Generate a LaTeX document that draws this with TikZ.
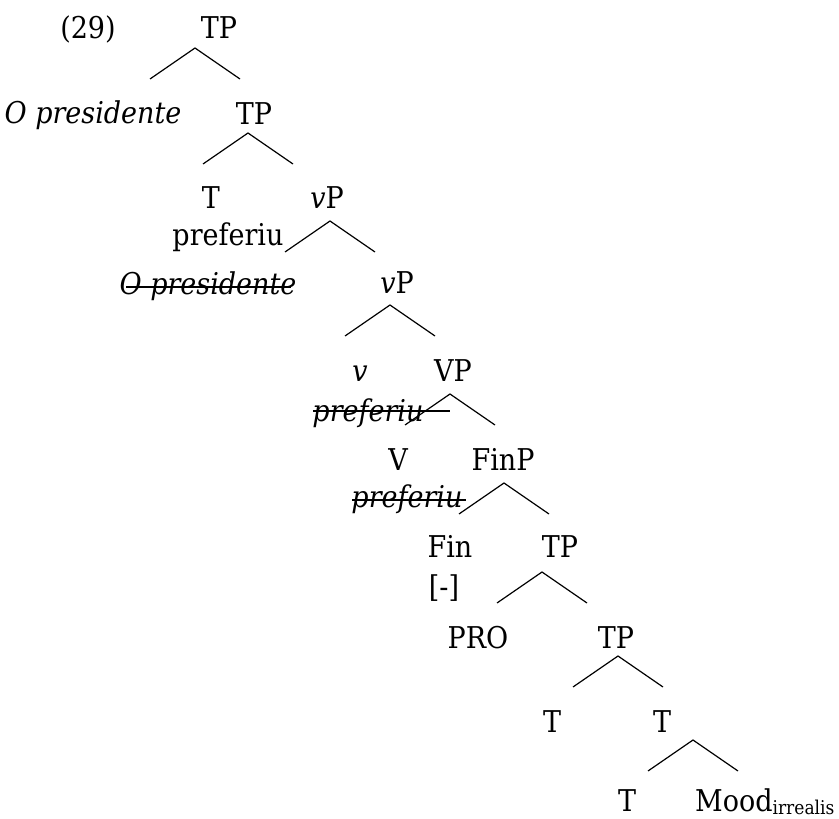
\documentclass[tikz,border=0pt]{standalone}
\usepackage{fontspec}
\setmainfont{DejaVu Serif Condensed}
\begin{document}
\begin{tikzpicture}[x=1pt,y=-1pt,
  lbl/.style={anchor=base, inner sep=0pt, font=\fontsize{30}{36}\selectfont},
  branch/.style={line width=1.2pt},
  strikeline/.style={line width=1.6pt}]
\useasboundingbox (0,0) rectangle (839,819);

% labels (anchored at their baselines)
\node[lbl] (ex)    at (88,38)   {(29)};
\node[lbl] (tp1)   at (219,38)  {TP};
\node[lbl] (subj)  at (93,123)  {\itshape O presidente};
\node[lbl] (tp2)   at (254,124) {TP};
\node[lbl] (t1)    at (211,208) {T};
\node[lbl] (vp1)   at (327,208) {\textit{v}P};
\node[lbl] (verb)  at (228,245) {preferiu};
\node[lbl] (subjc) at (208,294) {\itshape O presidente};
\node[lbl] (vp2)   at (397,293) {\textit{v}P};
\node[lbl] (vhead) at (360,381) {\itshape v};
\node[lbl] (VP)    at (453,381) {VP};
\node[lbl] (vcopy) at (368,421) {\itshape preferiu};
\node[lbl] (V)     at (398,470) {V};
\node[lbl] (finp)  at (503,470) {FinP};
\node[lbl] (Vcopy) at (407,507) {\itshape preferiu};
\node[lbl] (fin)   at (450,557) {Fin};
\node[lbl] (tp3)   at (560,557) {TP};
\node[lbl] (feat)  at (444,597) {[-]};
\node[lbl] (pro)   at (478,648) {PRO};
\node[lbl] (tp4)   at (616,648) {TP};
\node[lbl] (t2)    at (552,732) {T};
\node[lbl] (tbar)  at (662,732) {T};
\node[lbl] (t3)    at (627,811) {T};
\node[lbl, anchor=base west] (mood) at (695,811)
  {Mood\raisebox{-3pt}{\fontsize{19}{22}\selectfont irrealis}};

% struck-through copies
\coordinate (s1a) at (126,287); \coordinate (s1b) at (291,287);
\coordinate (s2a) at (313,411); \coordinate (s2b) at (450,411);
\coordinate (s3a) at (352,500); \coordinate (s3b) at (466,500);
\draw[strikeline] (s1a) -- (s1b);
\draw[strikeline] (s2a) -- (s2b);
\draw[strikeline] (s3a) -- (s3b);

% branching lines
\foreach \n/\x/\y in {1/195/48, 2/248/133, 3/330/221, 4/390/305, 5/450/394,
                      6/504/483, 7/542/572, 8/618/656, 9/693/740} {
  \coordinate (a\n) at (\x,\y);
  \coordinate (l\n) at (\x-45,\y+31);
  \coordinate (r\n) at (\x+45,\y+31);
  \draw[branch] (l\n) -- (a\n) -- (r\n);
}
\end{tikzpicture}
\end{document}
